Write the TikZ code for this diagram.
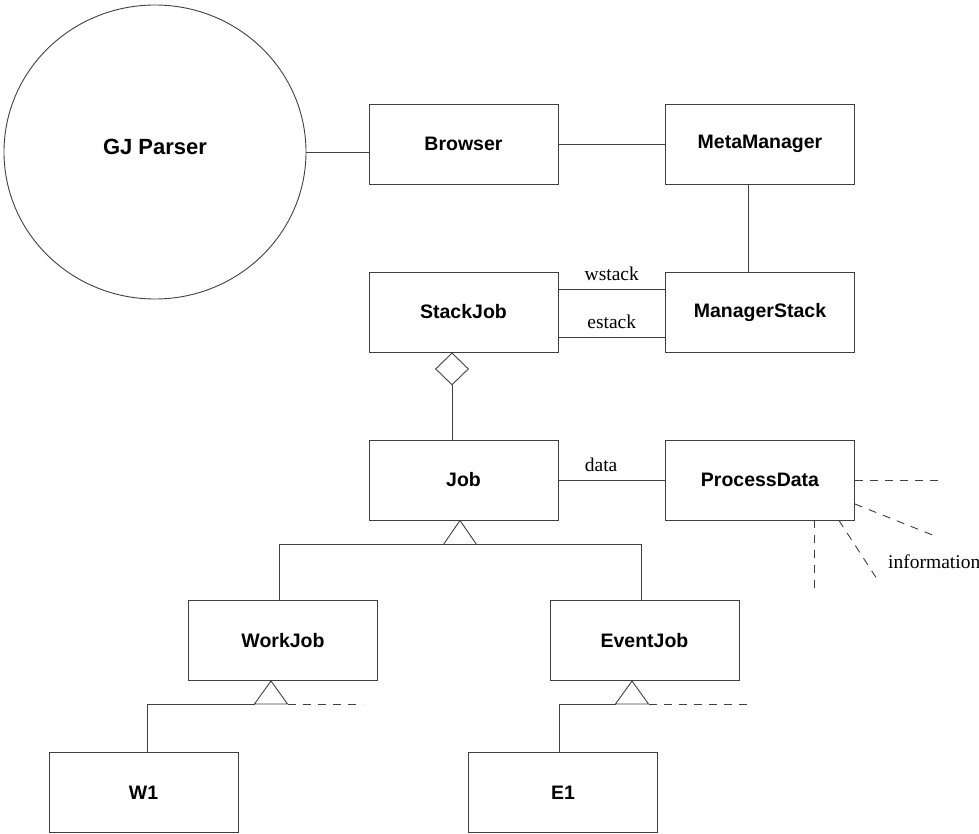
\documentclass[tikz,border=0pt]{standalone}
\usepackage{fontspec}
\setmainfont{Liberation Serif}
\newfontfamily\boxfont{Liberation Sans}
\usetikzlibrary{shapes.geometric}
\begin{document}
\begin{tikzpicture}[x=1pt,y=-1pt,
  line/.style={draw=black!75,line width=0.9pt},
  cls/.style={line,rectangle,minimum width=189,minimum height=80,inner sep=0,
              font=\boxfont\bfseries\fontsize{19.5}{22}\selectfont},
  lbl/.style={font=\fontsize{19.5}{22}\selectfont,inner sep=2},
  dashline/.style={line,dash pattern=on 8pt off 7pt}]
\useasboundingbox (0,0) rectangle (979,834);

% actor
\node[line,ellipse,minimum width=302,minimum height=294,inner sep=0] (GJ) at (155,152) {};
\node[font=\boxfont\bfseries\fontsize{22}{26}\selectfont] (GJtext) at ([yshift=5]GJ.center) {GJ Parser};

% classes
\node[cls] (Browser)      at (463.5,144) {Browser};
\node[cls] (MetaManager)  at (760,144)   {MetaManager};
\node[cls] (StackJob)     at (463.5,312) {StackJob};
\node[cls] (ManagerStack) at (760,312)   {ManagerStack};
\node[cls] (Job)          at (463.5,480) {Job};
\node[cls] (ProcessData)  at (760,480)   {ProcessData};
\node[cls] (WorkJob)      at (283,640.5) {WorkJob};
\node[cls] (EventJob)     at (644.5,640.5) {EventJob};
\node[cls] (W1)           at (143.5,792.5) {W1};
\node[cls] (E1)           at (563,792.5) {E1};

% associations
\draw[line] (GJ.east) -- (GJ.east -| Browser.west);
\draw[line] (Browser.east) -- (MetaManager.west);
\draw[line] ([xshift=-12]MetaManager.south) -- ([xshift=-12]ManagerStack.north);
\draw[line] ([yshift=23]StackJob.east) -- node[lbl,above=6pt,pos=0.5] {wstack} ([yshift=23]ManagerStack.west);
\draw[line] ([yshift=-25]StackJob.east) -- node[lbl,above=6pt,pos=0.5] {estack} ([yshift=-25]ManagerStack.west);
\draw[line] (Job.east) -- node[lbl,above=6pt,pos=0.4] {data} (ProcessData.west);

% aggregation
\node[line,diamond,minimum width=33,minimum height=32,inner sep=0,anchor=north]
  (agg) at ([xshift=-11.5]StackJob.south) {};
\draw[line] (agg.south) -- (agg.south |- Job.north);

% generalisation: Job
\coordinate (jobTip) at ([xshift=-3.5]Job.south);
\draw[line] (jobTip) -- ++(-16.5,24) -- ++(33,0) -- cycle;
\coordinate (jobBar) at ([yshift=-24]jobTip);
\draw[line] ([xshift=-4]WorkJob.north) |- (jobBar) -| ([xshift=-3.5]EventJob.north);

% generalisation: WorkJob
\coordinate (wTip) at ([xshift=-12]WorkJob.south);
\draw[line] (wTip) -- ++(-16.5,23) -- ++(33,0) -- cycle;
\draw[line] ([xshift=-16.5,yshift=-23]wTip) -| ([xshift=3.5]W1.north);
\draw[dashline] ([xshift=16.5,yshift=-23]wTip) -- ++(75,0);

% generalisation: EventJob
\coordinate (eTip) at ([xshift=-12.5]EventJob.south);
\draw[line] (eTip) -- ++(-16.5,23) -- ++(33,0) -- cycle;
\draw[line] ([xshift=-16.5,yshift=-23]eTip) -| ([xshift=-4]E1.north);
\draw[dashline] ([xshift=16.5,yshift=-23]eTip) -- ++(99,0);

% further information on ProcessData
\draw[dashline] (ProcessData.east) -- ++(83,0);
\draw[dashline] ([yshift=-24]ProcessData.east) -- ++(80,32);
\draw[dashline] ([xshift=-16]ProcessData.south east) -- ++(39,60);
\draw[dashline] ([xshift=-41]ProcessData.south east) -- ++(0,72);
\node[lbl,anchor=base west,inner sep=0] (info) at (888,568) {information};
\end{tikzpicture}
\end{document}
